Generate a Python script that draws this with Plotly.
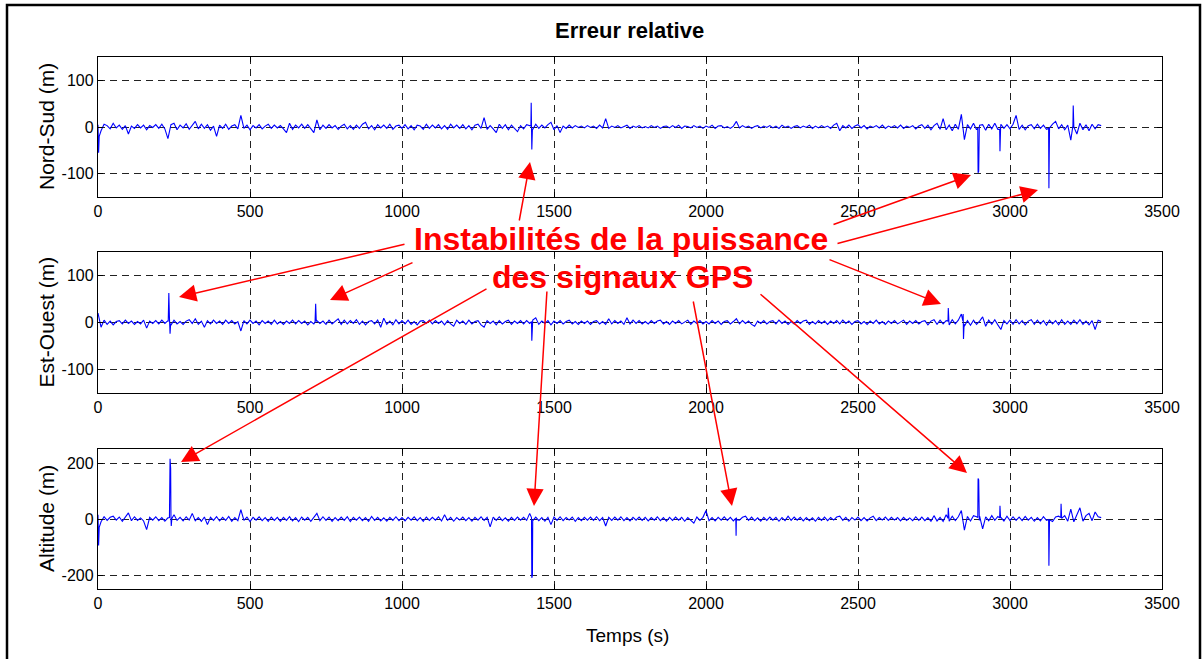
import plotly.graph_objects as go
from plotly.subplots import make_subplots

# ---------------- DATA ----------------
t_step = 10
t_end = 3300

ns_base = [
    5, -8, 6, 3, -4, 8, -2, 4, -5, 3, -15, 2, -3, 5, -2, 4, -6, 3, -1, 5,
    -3, 6, -4, -25, 5, 8, -6, 4, -2, 7, -5, 3, 12, -4, 6, -3, 5, -7, 2, -20,
    4, -3, 6, -5, 2, 5, -4, 25, -3, 4, -6, 3, -2, 5, -4, 2, 6, -3, 4, -2,
    3, -4, -12, 8, -5, 4, -2, 6, -3, 5, -4, -12, 15, -6, 4, -3, 5, -2, 3, -5,
    2, 6, -4, 3, -5, 4, -3, 6, 10, -4, 3, -6, 5, -2, 4, -3, 6, -5, 2, 4,
    -3, 5, -4, 3, -6, 4, 2, -5, 6, -3, 4, -2, 5, -4, 3, -5, 6, -2, 4, -3,
    5, -4, 3, -6, 4, 6, -3, 20, -5, 3, -4, -12, 6, -3, 5, -6, 4, -2, -10, 3,
    -4, 5, 3, -5, 6, -3, 4, -2, 5, 10, -6, 3, -12, 2, -3, 4, -2, 3, -1, 2,
    -2, 3, -1, 2, -3, 4, -2, 18, -3, 2, -1, 3, -2, 1, 4, -3, 2, -1, 3, -2,
    1, -2, 3, -1, 2, -3, 1, 2, -2, 3, -1, 4, -3, 2, 1, -2, 3, -1, 2, -3,
    2, -1, 4, -3, 2, 3, -2, 1, -3, 2, 12, -2, 3, -1, 2, -3, 1, 3, -2, 2,
    -1, 3, -2, 2, -3, 4, -1, 2, -3, 1, 3, -2, 2, -1, 4, -3, 2, -2, 3, -1,
    2, -3, 4, 8, -8, 3, -2, 4, -3, 2, 5, -2, 3, -4, 2, -1, 3, -2, 4, -3,
    2, -1, 3, -2, 4, -3, 2, -1, 3, -4, 2, 5, -3, 4, -6, 3, 8, -5, 18, -6,
    4, -8, 6, -5, 27, -27, 5, -4, 8, -6, 4, 5, -7, 6, -4, 8, -5, 6, -3, 5,
    -4, 6, 25, -5, 4, -6, 3, 5, -4, 6, -3, 4, -5, 3, 6, 12, -4, 5, -6, 4,
    -28, 6, -15, 8, -6, 5, -8, 6, -4, 5, 3,
]
ns_spike_t = [2, 4, 1424, 1425, 1427, 1429, 2894, 2895, 2897, 2899,
              2966, 2967, 2969, 3127, 3128, 3130, 3207, 3208, 3210]
ns_spike_v = [-55, -20, 2, 52, -48, -5, -2, -98, -95, 0,
              -5, -52, -3, -3, -131, -2, 3, 46, 0]

eo_base = [
    20, -10, 5, -4, 3, -5, 2, 4, -3, 5, -2, 3, -4, 2, -3, 5, -12, 3, -2, 4,
    -3, 5, -2, 4, -6, 5, -3, 2, -4, 3, 6, -2, 8, -4, 3, -10, 4, -3, 5, -2,
    3, -4, 5, -2, 4, -3, 2, -18, 4, -3, 5, -2, 3, -5, 4, -2, 3, -4, 5, -3,
    2, -4, 3, -2, 5, -3, 4, -2, 3, -5, 2, -3, 4, -2, 3, -4, 5, -3, 2, 8,
    -4, 5, -3, 4, -2, 6, -4, 3, -5, 2, 4, -3, 5, -10, 9, -4, 3, -5, 6, -3,
    4, -3, 5, -4, 2, -5, 3, 4, -2, 5, -3, 4, -2, 3, -5, 4, -3, -8, 5, -2,
    3, -4, 5, -3, 2, 4, -5, -10, 4, -2, 3, -5, 4, -3, 2, 5, -4, 3, -2, 4,
    -3, 4, -2, 5, 10, -4, 3, -2, 4, -5, 3, -2, 4, -3, 2, 5, -3, 2, -4, 3,
    -2, 3, -4, 2, 4, -3, 2, -4, 8, -3, 4, -2, 3, -4, 10, -3, 5, -2, 4, -3,
    2, -3, 4, -2, 3, 5, -3, 2, -4, 3, -2, 4, -3, 2, 5, -4, 3, -2, 4, -3,
    2, -3, 4, -2, 3, -4, 2, 4, -3, 2, 8, -3, 4, -2, 3, -4, -8, 3, -2, 4,
    -3, 2, 4, -3, 5, -2, 3, -4, 2, -3, 4, -2, 3, 5, -4, 2, -3, 4, -2, 3,
    -4, 3, -2, 4, -3, 5, -2, 3, -4, 2, 4, -3, 2, -4, 3, -2, 5, -3, 2, -4,
    3, -2, 4, -3, 2, 5, -4, 3, -2, 4, -3, 2, 4, -5, 3, 6, -4, 5, -3, 4,
    -5, 6, -3, 5, 18, -8, 4, -6, 5, -4, 3, 12, -8, 5, -4, 6, -5, -15, 4, -3,
    5, -4, 6, -3, 4, -5, 3, 6, -4, 5, -3, 4, -6, 5, -3, 4, -5, 6, -4, 3,
    -4, 5, -3, 6, -4, 3, -5, 4, -15, 5, 2,
]
eo_spike_t = [231, 233, 235, 237, 239, 714, 716, 718, 1426, 1427, 1429,
              2796, 2797, 2799, 2845, 2846, 2847, 2849]
eo_spike_v = [2, 63, 10, -24, -2, 1, 40, 2, 2, -39, -2,
              3, 31, 2, 3, 18, -35, -3]

alt_base = [
    15, -10, 8, -5, 6, 10, -4, 7, -8, 5, 22, -6, 8, -5, 4, -7, -38, 6, -4, 8,
    -6, 5, -8, 4, 7, 15, -5, 6, -7, 8, -4, 20, -6, 5, -8, 7, -20, 6, -5, 8,
    -7, 6, -5, 9, -8, 5, -6, 33, -5, 7, -9, 6, -4, 8, -6, 5, -8, 7, -5, 6,
    -8, 6, -5, 8, -7, 5, -9, 7, -4, 6, -8, 5, 20, -6, 8, -5, 7, -8, 5, -6,
    7, -5, 8, -9, 6, -4, 7, -6, 5, -8, 9, -5, 6, -7, 4, -8, 6, -5, 8, -6,
    5, -7, 6, -4, 8, -6, 5, -8, 7, -5, 6, -4, 8, -7, 15, -5, 6, -8, 5, -4,
    7, -6, 5, -8, 6, -4, 8, -5, 6, -28, 7, -5, 8, -6, 4, -8, 6, -5, 7, -4,
    6, -5, 20, -4, 7, -6, 5, -8, 6, -20, 7, -5, 8, -6, 5, -4, 7, -8, 5, -6,
    6, -4, 7, -5, 8, -6, 5, -25, 6, -5, 7, -4, 8, -6, 5, -7, 6, -4, 7, -5,
    6, -7, 5, -4, 8, -6, 5, -8, 6, -5, 7, -4, 6, -8, 5, -6, -15, 7, -5, 6,
    30, -6, 5, -7, 6, -4, 8, -5, 6, -7, 5, -4, 6, 10, -5, 7, -6, 4, -8, 6,
    -5, 7, -4, 6, -8, 5, -6, 10, -5, 7, -4, 6, -7, 5, -6, 4, -8, 6, -5, 7,
    -6, 5, -4, 7, 10, -5, 6, -8, 5, -4, 7, -6, 5, -7, 4, 10, -6, 5, -4, 7,
    -5, 6, -4, 5, -7, 6, -5, 4, -6, 8, -5, 7, -6, 5, -8, 12, -7, 6, -9, 15,
    -8, 10, -6, 8, 30, -40, 9, -7, 12, 8, 10, -35, 8, -6, 12, -5, 9, 6, -7, 10,
    -6, 8, -5, 7, -6, 9, -4, 6, -8, 5, -7, 8, -5, 6, -9, 7, 10, -5, 12, -8,
    35, -10, 15, 40, -8, 12, 20, -6, 25, 8, 5,
]
alt_spike_t = [2, 4, 235, 237, 239, 241, 243, 1426, 1427, 1429, 1431,
               2098, 2099, 2101, 2796, 2797, 2799, 2894, 2895, 2897, 2899,
               2966, 2967, 2969, 3127, 3128, 3130, 3167, 3168, 3170]
alt_spike_v = [-95, -30, 5, 215, 180, -25, 2, 5, -210, -200, -5,
               2, -60, -3, 3, 40, 2, 5, 145, 140, -5,
               4, 47, 3, -2, -167, -3, 5, 54, 2]

x_ticks = [0, 500, 1000, 1500, 2000, 2500, 3000, 3500]
ns_ticks = [-100, 0, 100]
eo_ticks = [-100, 0, 100]
alt_ticks = [-200, 0, 200]

title_text = "Erreur relative"
y_titles = ["Nord-Sud (m)", "Est-Ouest (m)", "Altitude (m)"]
x_title = "Temps (s)"
note_line1 = "Instabilités de la puissance"
note_line2 = "des signaux GPS"


def merge(base, st, sv):
    pts = {i * t_step: v for i, v in enumerate(base)}
    for t, v in zip(st, sv):
        pts[t] = v
    ts = sorted(pts)
    return ts, [pts[t] for t in ts]


# ---------------- FIGURE ----------------
W, H = 1204, 659
FONT = "Liberation Sans, Arial, sans-serif"


def px(x):
    return x / W


def py(y):
    return 1 - y / H


fig = make_subplots(rows=3, cols=1)

series = [merge(ns_base, ns_spike_t, ns_spike_v),
          merge(eo_base, eo_spike_t, eo_spike_v),
          merge(alt_base, alt_spike_t, alt_spike_v)]
for k, (ts, vs) in enumerate(series):
    fig.add_trace(go.Scatter(x=ts, y=vs, mode="lines",
                             line=dict(color="#0000ff", width=1.1),
                             showlegend=False, hoverinfo="skip"),
                  row=k + 1, col=1)

plot_px = [(57, 197), (252, 393), (449, 589)]
y_ranges = [[-150, 150], [-150, 150], [-250, 250]]
y_tickvals = [ns_ticks, eo_ticks, alt_ticks]

axis_common = dict(
    showline=True, linecolor="black", linewidth=1.3, mirror="allticks",
    ticks="inside", ticklen=5, tickcolor="black", tickwidth=1,
    showgrid=True, gridcolor="#222222", gridwidth=1, griddash="7px,5px",
    zeroline=False, tickfont=dict(family=FONT, size=16, color="black"),
    automargin=False,
)

for k in range(3):
    sfx = "" if k == 0 else str(k + 1)
    top, bot = plot_px[k]
    fig.layout["xaxis" + sfx].update(
        domain=[px(98), px(1162)], range=[0, 3500], tickvals=x_ticks,
        ticktext=[str(v) for v in x_ticks],
        anchor="y" + sfx, **axis_common)
    fig.layout["yaxis" + sfx].update(
        domain=[py(bot), py(top)], range=y_ranges[k], tickvals=y_tickvals[k],
        ticktext=[str(v) for v in y_tickvals[k]],
        anchor="x" + sfx, **axis_common)

annotations = []
center = dict(xref="paper", yref="paper", showarrow=False,
              xanchor="center", yanchor="middle")
annotations.append(dict(text="<b>" + title_text + "</b>", x=px(629), y=py(31),
                        font=dict(family=FONT, size=22, color="black"), **center))
for k in range(3):
    top, bot = plot_px[k]
    annotations.append(dict(text=y_titles[k], x=px(46), y=py((top + bot) / 2),
                            textangle=-90,
                            font=dict(family=FONT, size=21, color="black"), **center))
annotations.append(dict(text=x_title, x=px(627), y=py(635),
                        font=dict(family=FONT, size=19, color="black"), **center))
annotations.append(dict(text="<b>" + note_line1 + "</b>", x=px(621), y=py(239),
                        font=dict(family=FONT, size=32, color="#ff0000"), **center))
annotations.append(dict(text="<b>" + note_line2 + "</b>", x=px(622), y=py(277),
                        font=dict(family=FONT, size=32, color="#ff0000"), **center))

arrows = [
    ((519, 222), (530, 162)),
    ((832, 225), (971, 175)),
    ((836, 244), (1038, 190)),
    ((828, 259), (941, 304)),
    ((406, 244), (179, 297)),
    ((414, 262), (330, 300)),
    ((488, 288), (181, 462)),
    ((547, 290), (534, 506)),
    ((693, 300), (732, 506)),
    ((759, 293), (967, 473)),
]
for (tx, ty), (hx, hy) in arrows:
    annotations.append(dict(text="", x=px(hx), y=py(hy), xref="paper", yref="paper",
                            ax=tx - hx, ay=ty - hy, axref="pixel", ayref="pixel",
                            showarrow=True, arrowhead=2, arrowsize=2.3,
                            arrowwidth=1.5, arrowcolor="#ff0000",
                            standoff=0, startstandoff=0))

fig.update_layout(
    width=W, height=H, margin=dict(l=0, r=0, t=0, b=0),
    paper_bgcolor="white", plot_bgcolor="white",
    annotations=annotations,
    shapes=[dict(type="rect", xref="paper", yref="paper",
                 x0=px(7), x1=px(1200), y0=py(668), y1=py(5),
                 line=dict(color="black", width=2.5), fillcolor="rgba(0,0,0,0)",
                 layer="above")],
)

fig.write_html("out.html", config={"displayModeBar": False},
               post_script="document.body.style.margin='0';"
                           "document.body.style.overflow='hidden';")
